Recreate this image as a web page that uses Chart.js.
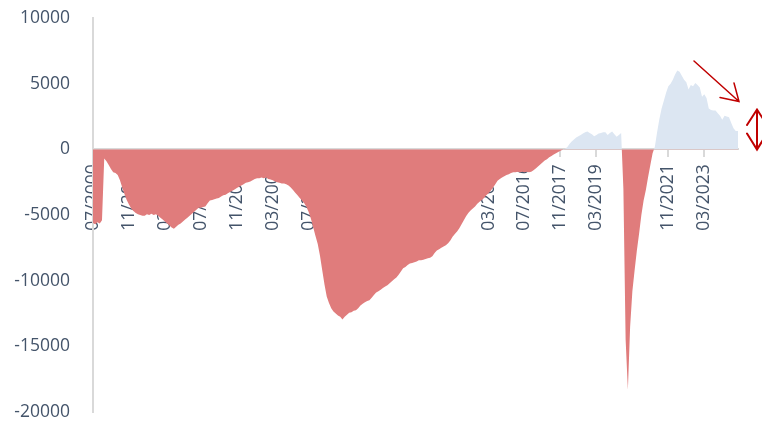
<!DOCTYPE html>
<html lang="en">
<head>
<meta charset="UTF-8">
<title>net position</title>
<script src="https://cdn.jsdelivr.net/npm/chart.js@4.4.1/dist/chart.umd.min.js"></script>
<style>
  html, body { margin: 0; padding: 0; background: #fff; }
  .wrap { width: 762px; height: 426px; position: relative; }
</style>
</head>
<body>
<div class="wrap"><canvas id="chart"></canvas></div>
<script>
// monthly series, 07/2000 .. 06/2024 (one row = 12 months from July)
const values = [
  -5600, -5700, -5550, -5650, -5400, -700, -900, -1200, -1500, -1750, -1800, -1950,
  -2350, -2900, -3400, -3850, -4200, -4500, -4700, -4850, -4950, -5000, -5050, -5050,
  -4950, -5000, -4900, -5000, -4950, -5050, -5200, -5350, -5500, -5650, -5800, -5950,
  -6050, -5900, -5750, -5650, -5500, -5350, -5200, -5050, -4900, -4750, -4600, -4450,
  -4450, -4400, -4350, -4100, -3900, -3850, -3800, -3750, -3700, -3600, -3500, -3450,
  -3350, -3250, -3150, -3050, -2950, -2850, -2750, -2650, -2550, -2500, -2450, -2350,
  -2250, -2200, -2200, -2150, -2200, -2150, -2250, -2300, -2350, -2450, -2500, -2550,
  -2600, -2600, -2650, -2750, -2900, -3100, -3300, -3500, -3700, -3900, -4100, -4400,
  -4800, -5300, -5950, -6600, -7200, -8100, -9200, -10300, -11200, -11700, -12100, -12350,
  -12500, -12650, -12750, -12950, -12750, -12600, -12450, -12400, -12300, -12250, -12100, -11900,
  -11750, -11650, -11550, -11500, -11300, -11100, -10900, -10800, -10700, -10550, -10450, -10350,
  -10200, -10050, -9900, -9750, -9550, -9300, -9050, -8950, -8800, -8700, -8650, -8600,
  -8550, -8450, -8450, -8400, -8350, -8300, -8250, -8150, -7900, -7700, -7600, -7500,
  -7400, -7300, -7150, -6950, -6650, -6450, -6250, -6000, -5700, -5400, -5100, -4850,
  -4650, -4500, -4350, -4150, -4000, -3850, -3700, -3500, -3350, -3150, -2900, -2650,
  -2400, -2250, -2150, -2050, -1950, -1900, -1800, -1750, -1750, -1700, -1750, -1700,
  -1750, -1700, -1750, -1700, -1600, -1450, -1300, -1150, -1000, -850, -750, -600,
  -500, -400, -300, -200, -100, -30, 50, 150, 400, 600, 750, 900,
  1000, 1100, 1200, 1300, 1350, 1250, 1150, 1000, 1100, 1200, 1250, 1300,
  1300, 1100, 1250, 1350, 1150, 950, 1100, 1250, -3000, -14500, -18300, -13500,
  -10800, -9200, -7700, -6400, -5000, -3900, -3100, -2100, -1200, -300, 200, 1300,
  2300, 3100, 3700, 4300, 4800, 5000, 5300, 5700, 6000, 5900, 5600, 5300,
  5100, 4550, 4900, 4800, 5050, 4900, 4700, 4000, 4200, 3900, 3100, 3000,
  2950, 2950, 2750, 2550, 2250, 2550, 2500, 2450, 2000, 1600, 1400, 1400
];

// labels shown on the x axis (every 16 months)
const tickLabels = ['07/2000', '11/2001', '03/2003', '07/2004', '11/2005', '03/2007',
  '07/2008', '11/2009', '03/2011', '07/2012', '11/2013', '03/2015', '07/2016',
  '11/2017', '03/2019', '07/2020', '11/2021', '03/2023'];

const yTicks = [-20000, -15000, -10000, -5000, 0, 5000, 10000];

// month categories MM/YYYY
const months = [];
for (let i = 0; i < values.length; i++) {
  const m = (6 + i) % 12 + 1;
  const y = 2000 + Math.floor((6 + i) / 12);
  months.push((m < 10 ? '0' : '') + m + '/' + y);
}

const textColor = '#44546a';
const axisColor = '#d9d9d9';
const font = { family: 'Open Sans', size: 17.5 };

// keep label overhang out of the layout, the padding below sets the plot box
const noPad = s => {
  s.paddingTop = 0; s.paddingBottom = 0;
  s.paddingLeft = 0; s.paddingRight = 0;
};

// red arrows on the right side
const arrows = {
  id: 'arrows',
  afterDraw(chart) {
    const ctx = chart.ctx;
    ctx.save();
    ctx.strokeStyle = '#c00000';
    ctx.lineWidth = 1.5;
    ctx.lineCap = 'round';
    ctx.beginPath();
    ctx.moveTo(694, 61); ctx.lineTo(739, 101.5);
    ctx.moveTo(720, 97.5); ctx.lineTo(739, 101.5); ctx.lineTo(734, 83);
    ctx.stroke();
    ctx.lineWidth = 2;
    ctx.beginPath();
    ctx.moveTo(757, 110); ctx.lineTo(757, 149);
    ctx.moveTo(747, 125); ctx.lineTo(757, 109.5); ctx.lineTo(767, 125);
    ctx.moveTo(747, 133.5); ctx.lineTo(757, 149.5); ctx.lineTo(767, 133.5);
    ctx.stroke();
    ctx.restore();
  }
};

new Chart(document.getElementById('chart'), {
  type: 'line',
  data: {
    labels: months,
    datasets: [{
      data: values,
      borderWidth: 0,
      pointRadius: 0,
      tension: 0,
      fill: { target: 'origin', above: '#dce6f2', below: '#e07c7c' }
    }]
  },
  options: {
    responsive: true,
    maintainAspectRatio: false,
    animation: false,
    layout: { padding: { top: 18, bottom: 14, right: 24, left: 0 } },
    plugins: { legend: { display: false }, tooltip: { enabled: false } },
    scales: {
      x: {
        position: { y: 0 },
        z: 1,
        afterFit: noPad,
        border: { color: axisColor, width: 2 },
        grid: {
          drawOnChartArea: false,
          drawTicks: true,
          tickLength: 7,
          lineWidth: 2,
          color: c => tickLabels.includes(months[c.index]) ? axisColor : 'rgba(0,0,0,0)'
        },
        ticks: {
          autoSkip: false,
          minRotation: 90,
          maxRotation: 90,
          padding: 8,
          color: textColor,
          font: font,
          callback: (v, i) => tickLabels.includes(months[i]) ? months[i] : ''
        }
      },
      y: {
        min: -20000,
        max: 10000,
        afterBuildTicks: s => { s.ticks = yTicks.map(v => ({ value: v })); },
        afterFit: s => { s.width = 93; noPad(s); },
        border: { color: axisColor, width: 2 },
        grid: { drawOnChartArea: false, drawTicks: false },
        ticks: { padding: 23, color: textColor, font: font, callback: v => String(v) }
      }
    }
  },
  plugins: [arrows]
});
</script>
</body>
</html>
